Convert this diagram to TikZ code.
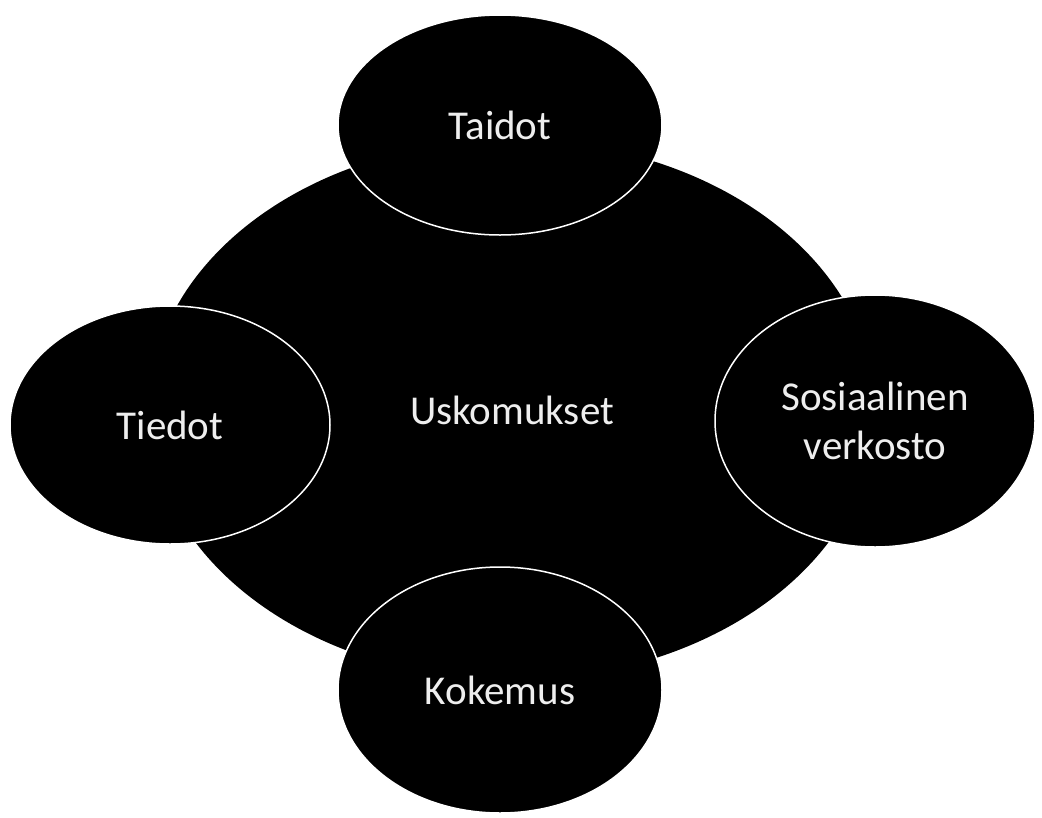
\documentclass[tikz,border=0pt]{standalone}
\usepackage{fontspec}
\setmainfont{Carlito}
\usepackage{tikz}
\usetikzlibrary{shapes.geometric}

\definecolor{labelgray}{RGB}{238,238,238}

\begin{document}
\begin{tikzpicture}[x=1pt, y=-1pt,
    bigblob/.style={ellipse, fill=black, inner sep=0pt, text=labelgray,
      font=\fontsize{41}{49}\selectfont},
    smallblob/.style={ellipse, fill=black, draw=white, line width=1.5pt,
      inner sep=0pt, text=labelgray, align=center,
      font=\fontsize{41}{49}\selectfont}]
            % Canvas
            \useasboundingbox[fill=white] (0,0) rectangle (1042,817);

            % Centre
            \node[bigblob, minimum width=726pt, minimum height=540pt] (uskomukset) at (512,410) {Uskomukset};

            % Outer ellipses
            \node[smallblob, minimum width=324pt, minimum height=220pt] (taidot) at (500,125) {Taidot};
            \node[smallblob, minimum width=320pt, minimum height=238pt] (tiedot) at (170,425) {Tiedot};
            \node[smallblob, minimum width=320pt, minimum height=252pt] (verkosto) at (875,421) {Sosiaalinen\\verkosto};
            \node[smallblob, minimum width=324pt, minimum height=246pt] (kokemus) at (500,690) {Kokemus};

        \end{tikzpicture}
\end{document}
